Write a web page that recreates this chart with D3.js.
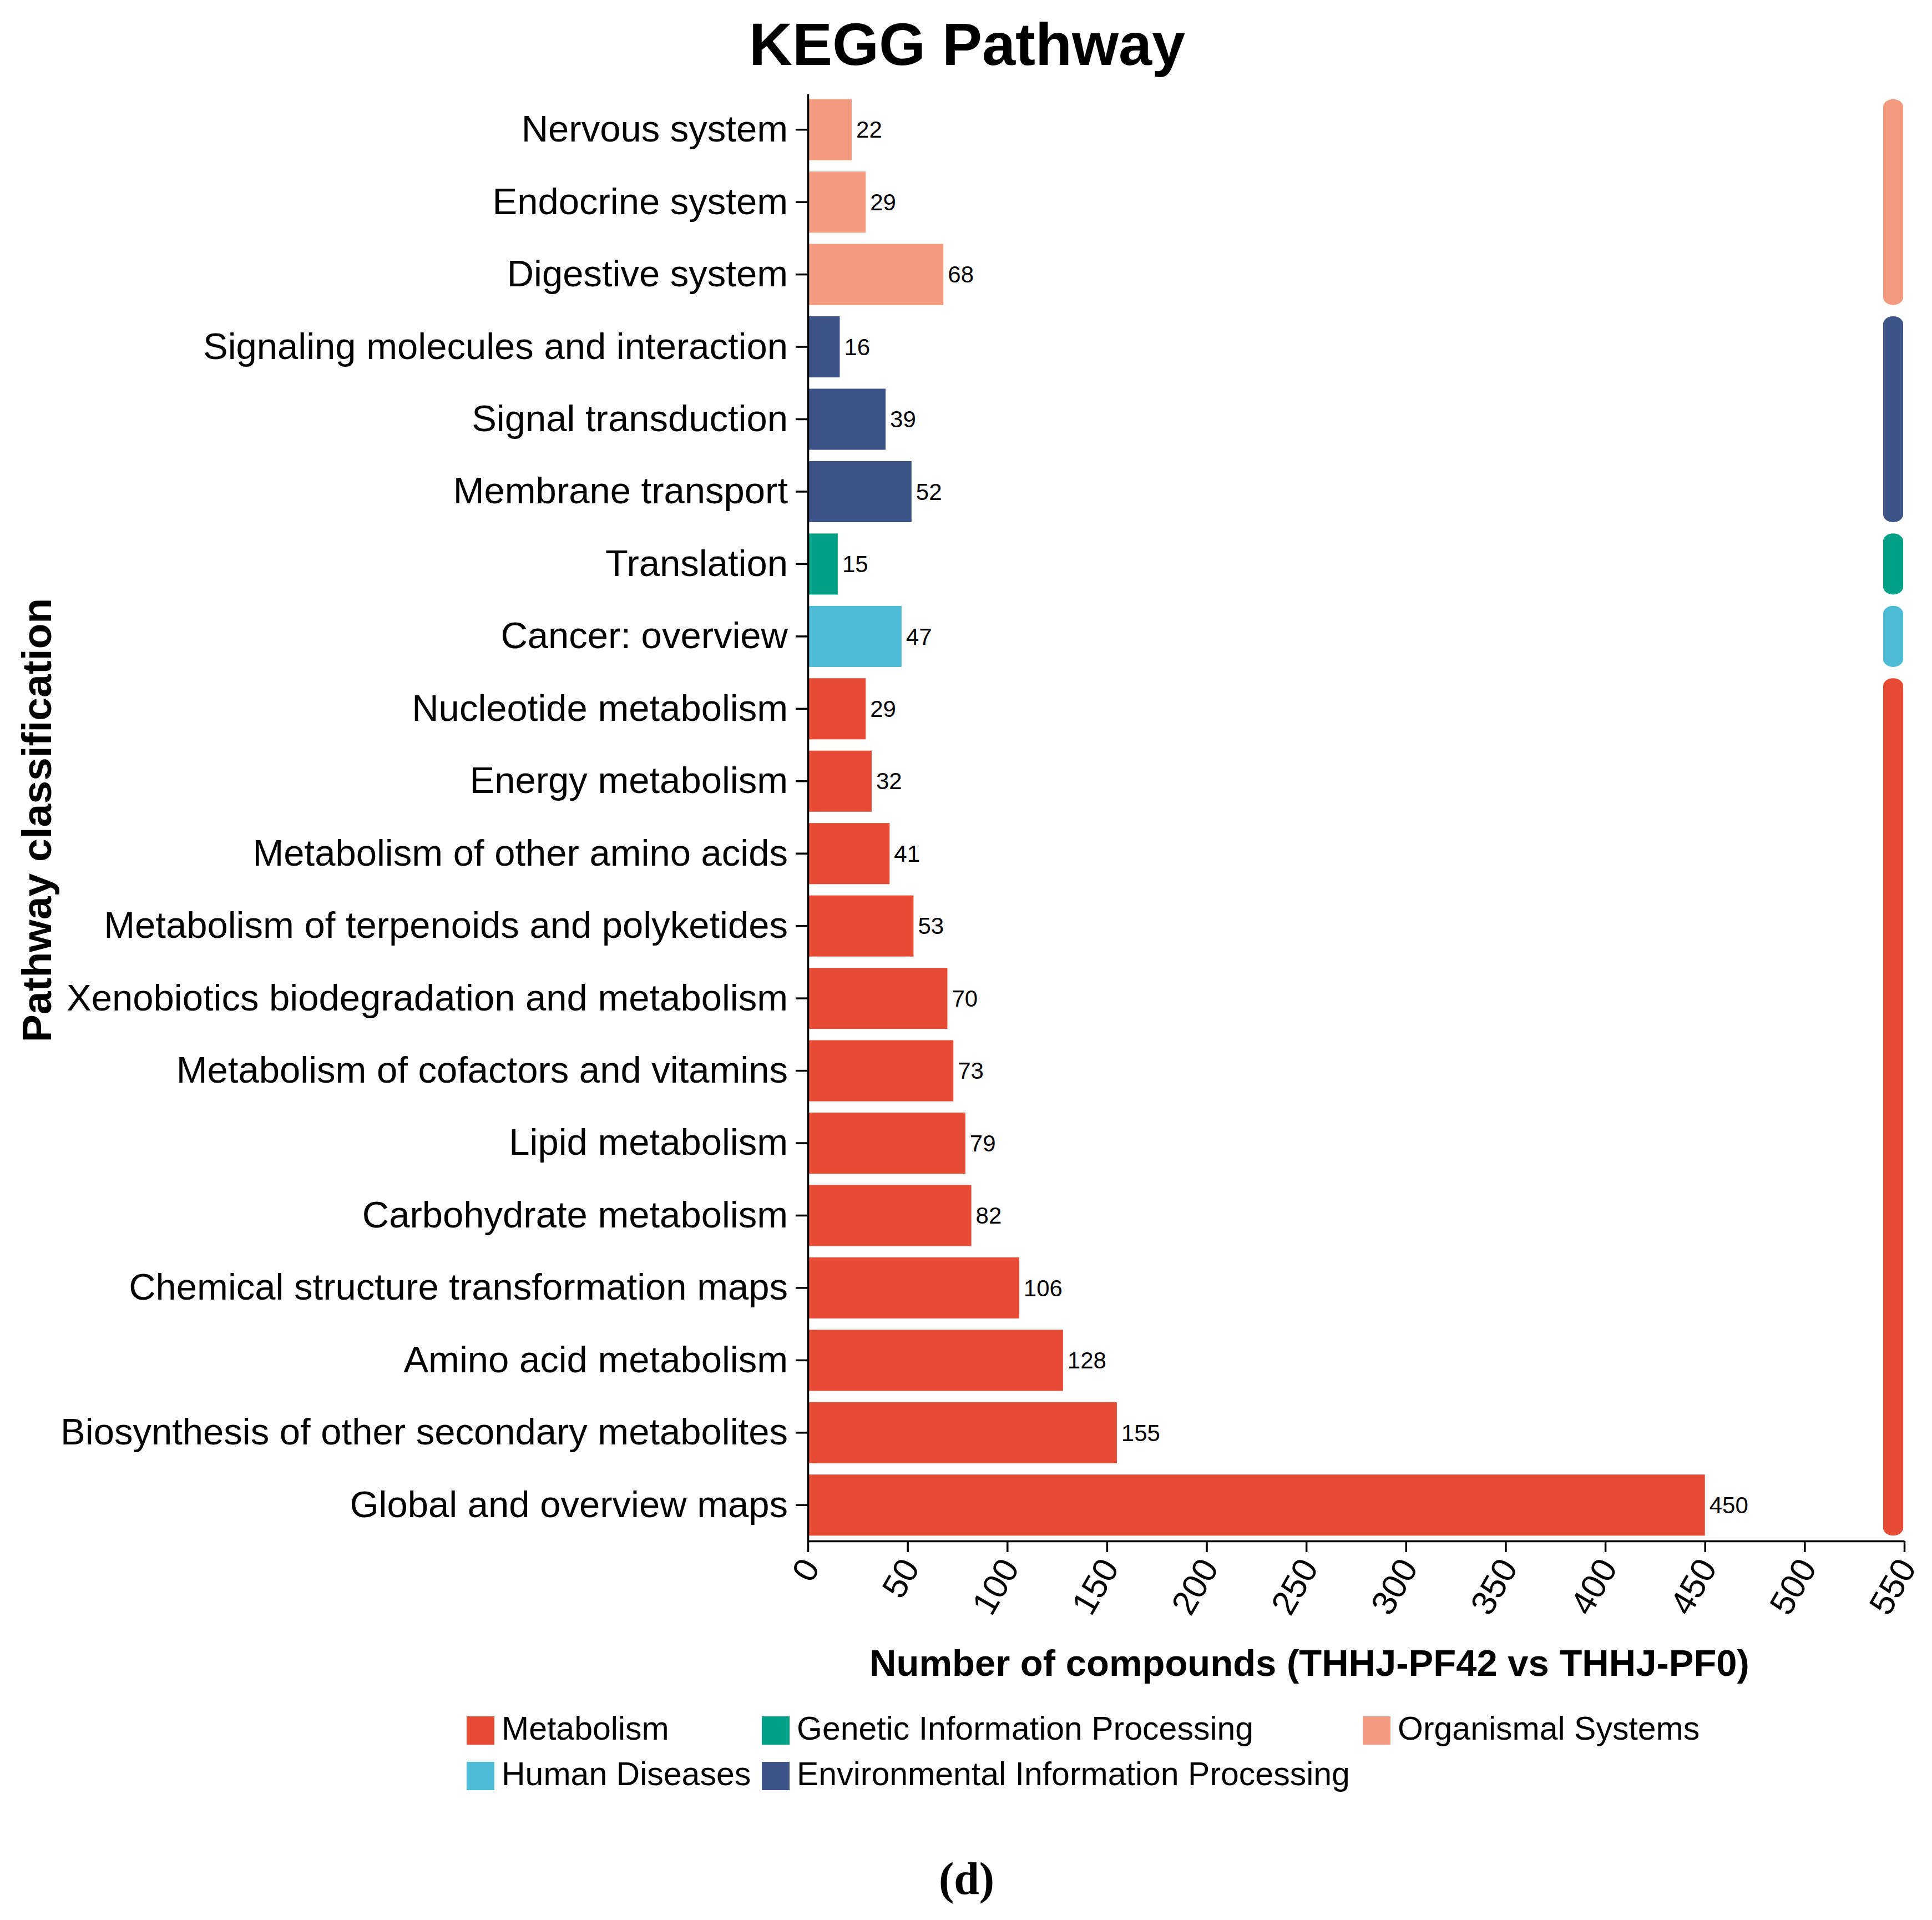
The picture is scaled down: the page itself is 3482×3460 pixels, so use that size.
<!DOCTYPE html>
<html>
<head>
<meta charset="utf-8">
<script src="https://cdn.jsdelivr.net/npm/d3@7"></script>
<style>
  body { margin: 0; background: #fff; }
  text { font-family: "Liberation Sans", Arial, sans-serif; fill: #000; }
</style>
</head>
<body>
<div id="chart"></div>
<script>
// pathway names, top to bottom
const pathways = [
    'Nervous system', 'Endocrine system', 'Digestive system',
    'Signaling molecules and interaction', 'Signal transduction', 'Membrane transport',
    'Translation', 'Cancer: overview',
    'Nucleotide metabolism', 'Energy metabolism', 'Metabolism of other amino acids',
    'Metabolism of terpenoids and polyketides', 'Xenobiotics biodegradation and metabolism',
    'Metabolism of cofactors and vitamins', 'Lipid metabolism', 'Carbohydrate metabolism',
    'Chemical structure transformation maps', 'Amino acid metabolism',
    'Biosynthesis of other secondary metabolites', 'Global and overview maps'
];
const counts = [22, 29, 68, 16, 39, 52, 15, 47, 29, 32, 41, 53, 70, 73, 79, 82, 106, 128, 155, 450];
const classes = [
    'Organismal Systems', 'Organismal Systems', 'Organismal Systems',
    'Environmental Information Processing', 'Environmental Information Processing', 'Environmental Information Processing',
    'Genetic Information Processing', 'Human Diseases',
    'Metabolism', 'Metabolism', 'Metabolism', 'Metabolism', 'Metabolism', 'Metabolism',
    'Metabolism', 'Metabolism', 'Metabolism', 'Metabolism', 'Metabolism', 'Metabolism'
];
const legendOrder = ['Metabolism', 'Genetic Information Processing', 'Organismal Systems',
    'Human Diseases', 'Environmental Information Processing'];
const classColors = ['#E64B35', '#00A087', '#F39B7F', '#4DBBD5', '#3C5488'];
const xTicks = [0, 50, 100, 150, 200, 250, 300, 350, 400, 450, 500, 550];

const width = 3482;
const height = 3460;

const svg = d3.select('#chart').append('svg')
    .attr('width', width)
    .attr('height', height);

svg.append('rect').attr('width', width).attr('height', height).attr('fill', '#fff');

const color = d3.scaleOrdinal().domain(legendOrder).range(classColors);

const x = d3.scaleLinear().domain([0, 550]).range([1456, 3432]);
const y = d3.scaleBand().domain(pathways).range([169, 2777])
    .paddingInner(0.156).paddingOuter(0.074);

const data = pathways.map((p, i) => ({ name: p, value: counts[i], cls: classes[i] }));

// title
svg.append('text')
    .attr('x', 1743).attr('y', 117)
    .attr('text-anchor', 'middle')
    .style('font-size', '108px').style('font-weight', 'bold')
    .text('KEGG Pathway');

// bars
svg.append('g').selectAll('rect')
    .data(data)
    .enter().append('rect')
    .attr('x', x(0))
    .attr('y', d => y(d.name))
    .attr('width', d => x(d.value) - x(0))
    .attr('height', y.bandwidth())
    .attr('fill', d => color(d.cls));

// value labels
svg.append('g').selectAll('text')
    .data(data)
    .enter().append('text')
    .attr('x', d => x(d.value) + 8)
    .attr('y', d => y(d.name) + y.bandwidth() / 2)
    .attr('dy', '0.35em')
    .style('font-size', '42px')
    .text(d => d.value);

// class strips on the right
const groups = d3.groups(data, d => d.cls).map(([cls, rows]) => ({
    cls,
    top: d3.min(rows, r => y(r.name)),
    bottom: d3.max(rows, r => y(r.name) + y.bandwidth())
}));
svg.append('g').selectAll('rect')
    .data(groups)
    .enter().append('rect')
    .attr('x', x.range()[1] - 38)
    .attr('y', d => d.top)
    .attr('width', 36)
    .attr('height', d => d.bottom - d.top)
    .attr('rx', 18).attr('ry', 14)
    .attr('fill', d => color(d.cls));

// axes
const yAxis = svg.append('g')
    .attr('transform', `translate(${x(0)},0)`)
    .call(d3.axisLeft(y).tickSize(22).tickPadding(14).tickSizeOuter(0));
yAxis.selectAll('text').style('font-size', '67px').attr('fill', '#000');

const xAxis = svg.append('g')
    .attr('transform', `translate(0,${y.range()[1]})`)
    .call(d3.axisBottom(x).tickValues(xTicks).tickSize(20).tickSizeOuter(0));
xAxis.selectAll('text')
    .attr('x', 0).attr('y', 0)
    .attr('dy', '0.35em')
    .attr('text-anchor', 'end')
    .attr('transform', 'translate(4,37) rotate(-60)')
    .style('font-size', '62px').attr('fill', '#000');

svg.selectAll('.domain, .tick line').attr('stroke', '#000').attr('stroke-width', 3.5);

// axis titles
svg.append('text')
    .attr('x', 2360).attr('y', 3020)
    .attr('text-anchor', 'middle')
    .style('font-size', '67px').style('font-weight', 'bold')
    .text('Number of compounds (THHJ-PF42 vs THHJ-PF0)');

svg.append('text')
    .attr('transform', 'translate(92,1478) rotate(-90)')
    .attr('text-anchor', 'middle')
    .style('font-size', '75px').style('font-weight', 'bold')
    .text('Pathway classification');

// legend
const legendCols = [841, 1373, 2456];
const legendRows = [3093, 3175];
const legend = svg.append('g').selectAll('g')
    .data(legendOrder)
    .enter().append('g')
    .attr('transform', (d, i) => `translate(${legendCols[i % 3]},${legendRows[Math.floor(i / 3)]})`);
legend.append('rect')
    .attr('width', 50).attr('height', 51)
    .attr('fill', d => color(d));
legend.append('text')
    .attr('x', 63).attr('y', 42)
    .style('font-size', '59px')
    .text(d => d);

// panel letter
svg.append('text')
    .attr('x', 1742).attr('y', 3413)
    .attr('text-anchor', 'middle')
    .style('font-family', '"Liberation Serif", "Times New Roman", serif')
    .style('font-size', '82px').style('font-weight', 'bold')
    .text('(d)');
</script>
</body>
</html>
